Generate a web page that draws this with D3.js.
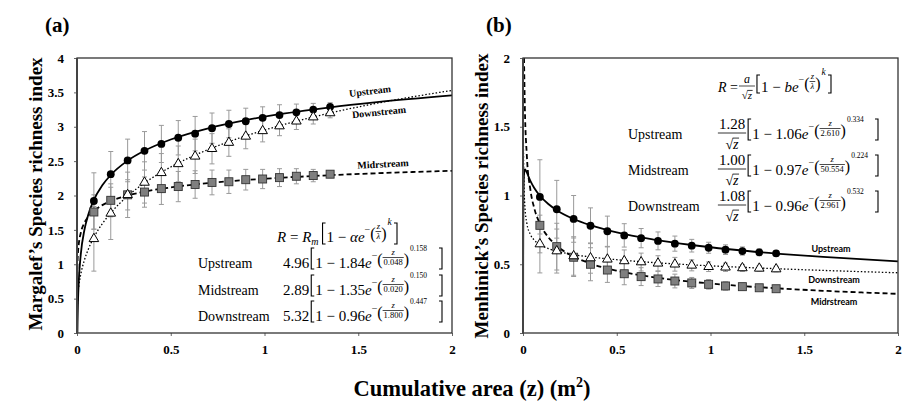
<!DOCTYPE html>
<html><head><meta charset="utf-8">
<script src="https://cdn.jsdelivr.net/npm/d3@7/dist/d3.min.js"></script>
<style>html,body{margin:0;padding:0;background:#fff;} svg{display:block}</style>
</head><body>
<svg id="c" width="922" height="406"></svg>
<script>
// ---------- data ----------
const zVals = [0.09,0.18,0.27,0.36,0.45,0.54,0.63,0.72,0.81,0.90,0.99,1.08,1.17,1.26,1.35];

const upA      = [1.92,2.31,2.51,2.65,2.75,2.84,2.90,2.98,3.04,3.08,3.13,3.17,3.21,3.25,3.29];
const upAErr   = [0.41,0.33,0.31,0.28,0.27,0.25,0.25,0.22,0.20,0.19,0.16,0.15,0.12,0.09,0.06];
const midA     = [1.76,1.93,2.01,2.05,2.10,2.13,2.16,2.19,2.20,2.23,2.24,2.26,2.28,2.29,2.31];
const midAErr  = [0.25,0.24,0.22,0.22,0.23,0.22,0.20,0.18,0.17,0.15,0.14,0.13,0.11,0.09,0.05];
const downA    = [1.37,1.74,2.01,2.19,2.33,2.46,2.57,2.68,2.77,2.86,2.94,3.01,3.08,3.14,3.20];
const downAErr = [0.47,0.38,0.33,0.30,0.28,0.26,0.25,0.22,0.20,0.18,0.16,0.14,0.12,0.10,0.07];

const upB      = [0.99,0.90,0.83,0.78,0.74,0.71,0.69,0.67,0.65,0.635,0.62,0.606,0.596,0.587,0.579];
const upBErr   = [0.27,0.21,0.17,0.13,0.11,0.085,0.07,0.065,0.055,0.046,0.04,0.035,0.03,0.025,0.02];
const midB     = [0.783,0.628,0.551,0.50,0.458,0.431,0.41,0.393,0.378,0.364,0.354,0.342,0.337,0.329,0.322];
const midBErr  = [0.20,0.17,0.14,0.12,0.09,0.08,0.065,0.055,0.05,0.04,0.035,0.03,0.025,0.02,0.02];
const downB    = [0.647,0.596,0.56,0.545,0.536,0.524,0.516,0.507,0.50,0.492,0.482,0.478,0.473,0.47,0.465];
const downBErr = [0.21,0.16,0.14,0.11,0.09,0.08,0.065,0.055,0.05,0.04,0.035,0.03,0.025,0.02,0.02];

// fitted curves as [z, R]
const fitUpA = [[0.0021,0],[0.003,0.17],[0.005,0.43],[0.01,0.78],[0.02,1.14],[0.04,1.505],[0.06,1.721],[0.09,1.935],[0.135,2.149],[0.18,2.298],[0.27,2.507],[0.36,2.652],[0.5,2.815],[0.7,2.978],[0.9,3.097],[1.1,3.19],[1.35,3.283],[1.6,3.358],[2.0,3.456]];
const fitMidA = [[0,0],[0.00001,0.06],[0.0001,0.41],[0.002,0.97],[0.005,1.159],[0.01,1.306],[0.02,1.455],[0.04,1.604],[0.06,1.69],[0.09,1.776],[0.135,1.86],[0.18,1.919],[0.27,2.0],[0.36,2.056],[0.5,2.118],[0.7,2.18],[0.9,2.226],[1.1,2.26],[1.35,2.295],[1.6,2.324],[2.0,2.359]];
const fitDownA = [[0,0.213],[0.005,0.568],[0.01,0.69],[0.02,0.852],[0.04,1.064],[0.06,1.216],[0.09,1.391],[0.135,1.59],[0.18,1.746],[0.27,1.992],[0.36,2.182],[0.5,2.415],[0.7,2.669],[0.9,2.867],[1.1,3.03],[1.35,3.2],[1.6,3.342],[2.0,3.529]];
const fitUpB = [[0.0005,0],[0.0006,0.14],[0.001,0.563],[0.002,0.925],[0.003,1.049],[0.005,1.146],[0.01,1.192],[0.02,1.168],[0.04,1.104],[0.06,1.054],[0.09,0.998],[0.135,0.938],[0.18,0.893],[0.27,0.829],[0.36,0.784],[0.5,0.731],[0.7,0.679],[0.9,0.64],[1.1,0.609],[1.35,0.578],[1.6,0.553],[2.0,0.521]];
const fitMidB = [[0.0054,2.0],[0.01,1.635],[0.02,1.301],[0.04,1.037],[0.06,0.908],[0.09,0.795],[0.135,0.697],[0.18,0.634],[0.27,0.555],[0.36,0.505],[0.5,0.453],[0.7,0.405],[0.9,0.3725],[1.1,0.3484],[1.35,0.3252],[1.6,0.3071],[2.0,0.2848]];
const fitDownB = [[0.0008,2.0],[0.001,1.83],[0.002,1.439],[0.005,1.094],[0.01,0.922],[0.02,0.801],[0.04,0.715],[0.06,0.676],[0.09,0.643],[0.135,0.614],[0.18,0.595],[0.27,0.57],[0.36,0.553],[0.5,0.533],[0.7,0.512],[0.9,0.4956],[1.1,0.4821],[1.35,0.4676],[1.6,0.4552],[2.0,0.4381]];

const xTicks = [0,0.5,1,1.5,2];
const yTicksA = [0,0.5,1,1.5,2,2.5,3,3.5,4];
const yTicksB = [0,0.5,1,1.5,2];

const seriesNames = ["Upstream","Midstream","Downstream"];
const curveLabels = ["Upstream","Midrstream","Downstream"];
const rmA = ["4.96","2.89","5.32"], alphaA = ["1.84","1.35","0.96"], lambdaA = ["0.048","0.020","1.800"], kA = ["0.158","0.150","0.447"];
const aB = ["1.28","1.00","1.08"], bB = ["1.06","0.97","0.96"], lambdaB = ["2.610","50.554","2.961"], kB = ["0.334","0.224","0.532"];

// ---------- drawing ----------
const svg = d3.select("#c");
const SERIF = "'Liberation Serif','Times New Roman',serif";
const MATH = "'Liberation Serif','DejaVu Serif',serif";
const SANS = "Lato,'Liberation Sans',sans-serif";
const NB = "\u00a0";

function drawPanel(x, y, yTicks, series) {
  const g = svg.append("g");
  const [x0, x1] = x.range(), [y0, y1] = y.range();
  const gx = g.append("g").attr("transform", `translate(0,${y0})`)
    .call(d3.axisBottom(x).tickValues(xTicks).tickFormat(d => String(d)).tickSize(3).tickPadding(9));
  const gy = g.append("g").attr("transform", `translate(${x0},0)`)
    .call(d3.axisLeft(y).tickValues(yTicks).tickFormat(d => String(d)).tickSize(3).tickPadding(10));
  [gx, gy].forEach(a => {
    a.select(".domain").remove();
    a.selectAll("line").attr("stroke", "#666");
    a.selectAll("text").attr("font-family", SERIF).attr("font-weight", "bold").attr("font-size", 13).attr("fill", "#000");
  });
  // error bars
  series.forEach(s => {
    zVals.forEach((z, i) => {
      const cx = x(z), ya = y(s.vals[i] - s.err[i]), yb = y(s.vals[i] + s.err[i]);
      g.append("line").attr("x1", cx).attr("x2", cx).attr("y1", ya).attr("y2", yb).attr("stroke", "#9a9a9a").attr("stroke-width", 1);
      [ya, yb].forEach(yy => g.append("line").attr("x1", cx - 2.5).attr("x2", cx + 2.5).attr("y1", yy).attr("y2", yy).attr("stroke", "#9a9a9a").attr("stroke-width", 1));
    });
  });
  // fit curves
  const line = d3.line().x(d => x(d[0])).y(d => y(d[1])).curve(d3.curveMonotoneX);
  series.forEach(s => {
    g.append("path").datum(s.fit).attr("d", line).attr("fill", "none").attr("stroke", "#000")
      .attr("stroke-width", s.sw).attr("stroke-dasharray", s.dash);
  });
  // markers
  series.forEach(s => {
    zVals.forEach((z, i) => {
      const cx = x(z), cy = y(s.vals[i]);
      if (s.marker === "circle") g.append("circle").attr("cx", cx).attr("cy", cy).attr("r", 3.9).attr("fill", "#000");
      else if (s.marker === "square") g.append("rect").attr("x", cx - 4).attr("y", cy - 4).attr("width", 8).attr("height", 8)
        .attr("fill", "#7f7f7f").attr("stroke", "#333").attr("stroke-width", 0.9);
      else g.append("path").attr("d", d3.symbol().type(d3.symbolTriangle).size(40)()).attr("transform", `translate(${cx},${cy})`)
        .attr("fill", "#fff").attr("stroke", "#000").attr("stroke-width", 1);
    });
  });
  // frame
  g.append("rect").attr("x", x0).attr("y", y1).attr("width", x1 - x0).attr("height", y0 - y1)
    .attr("fill", "none").attr("stroke", "#333").attr("stroke-width", 1.3);
  g.append("line").attr("x1", x0).attr("x2", x0).attr("y1", y1).attr("y2", y0).attr("stroke", "#444").attr("stroke-width", 2);
  return g;
}

const xa = d3.scaleLinear().domain([0, 2]).range([77, 452]);
const ya = d3.scaleLinear().domain([0, 4]).range([333, 58]);
const xb = d3.scaleLinear().domain([0, 2]).range([523, 898]);
const yb = d3.scaleLinear().domain([0, 2]).range([333, 58]);

const styles = [
  {marker: "circle", sw: 1.8, dash: null},
  {marker: "square", sw: 1.8, dash: "5,3"},
  {marker: "triangle", sw: 1.3, dash: "1.5,2"}
];
const gA = drawPanel(xa, ya, yTicksA, [
  Object.assign({vals: upA, err: upAErr, fit: fitUpA}, styles[0]),
  Object.assign({vals: midA, err: midAErr, fit: fitMidA}, styles[1]),
  Object.assign({vals: downA, err: downAErr, fit: fitDownA}, styles[2])
]);
const gB = drawPanel(xb, yb, yTicksB, [
  Object.assign({vals: upB, err: upBErr, fit: fitUpB}, styles[0]),
  Object.assign({vals: midB, err: midBErr, fit: fitMidB}, styles[1]),
  Object.assign({vals: downB, err: downBErr, fit: fitDownB}, styles[2])
]);

// curve labels
[[370, 91, -7, 0], [383, 164, -3, 1], [379, 112, -6, 2]].forEach(([cx, cy, r, i]) => {
  gA.append("text").attr("transform", `translate(${cx},${cy}) rotate(${r})`).attr("dy", "0.35em").attr("text-anchor", "middle")
    .attr("font-family", SERIF).attr("font-weight", "bold").attr("font-size", 10).text(curveLabels[i]);
});
[[831, 249, 0], [834, 302, 1], [834, 280, 2]].forEach(([cx, cy, i]) => {
  gB.append("text").attr("x", cx).attr("y", cy).attr("dy", "0.35em").attr("text-anchor", "middle")
    .attr("font-family", SANS).attr("font-weight", "bold").attr("font-size", 9).text(curveLabels[i]);
});

// ---------- formula helpers ----------
function txt(g, x, y, s, size, opt = {}) {
  const t = g.append("text").attr("x", x).attr("y", y).attr("font-family", MATH).attr("font-size", size).attr("fill", "#000").text(s);
  if (opt.italic) t.attr("font-style", "italic");
  if (opt.anchor) t.attr("text-anchor", opt.anchor);
  return t;
}
const W = t => t.node().getComputedTextLength();
function bracket(g, x, y1, y2, left) {
  const d = left ? `M${x + 3},${y1}H${x}V${y2}H${x + 3}` : `M${x - 3},${y1}H${x}V${y2}H${x - 3}`;
  g.append("path").attr("d", d).attr("fill", "none").attr("stroke", "#000").attr("stroke-width", 1.1);
}
function expo(g, x, b, num, den, pow, greekDen) {
  let t = txt(g, x, b - 9, "−", 10); x += W(t);
  t = txt(g, x, b - 3, "(", 16); x += W(t);
  const tn = txt(g, 0, b - 13, num, 8.5, {italic: true, anchor: "middle"});
  const td = txt(g, 0, b - 3, den, 8.5, {italic: greekDen, anchor: "middle"});
  const fw = Math.max(W(tn), W(td)) + 2;
  tn.attr("x", x + fw / 2); td.attr("x", x + fw / 2);
  g.append("line").attr("x1", x).attr("x2", x + fw).attr("y1", b - 10.5).attr("y2", b - 10.5).attr("stroke", "#000").attr("stroke-width", 0.7);
  x += fw;
  t = txt(g, x, b - 3, ")", 16); x += W(t) + 1;
  t = greekDen ? txt(g, x, b - 17, pow, 9.5, {italic: true}) : txt(g, x, b - 17, pow, 7.5);
  return x + W(t);
}
function mainPart(g, x, b, coef, sym) {
  const t = txt(g, x, b, "1" + NB + "−" + NB + coef, 15);
  if (sym) t.append("tspan").attr("font-style", "italic").text(sym);
  t.append("tspan").attr("font-style", "italic").text("e");
  return x + W(t);
}

// ---------- formulas panel (a) ----------
const fa = svg.append("g");
{
  const b = 242; let x = 277;
  let t = txt(fa, x, b, "R", 15, {italic: true}); x += W(t);
  t = txt(fa, x, b, NB + "=" + NB, 15); x += W(t);
  t = txt(fa, x, b, "R", 15, {italic: true}); x += W(t);
  t = txt(fa, x, b + 3, "m", 10, {italic: true}); x += W(t) + 4;
  bracket(fa, x, b - 19, b + 2, true); x += 4;
  x = mainPart(fa, x, b, "", "α");
  expo(fa, x, b, "z", "λ", "k", true);
  bracket(fa, 397, b - 19, b + 2, false);
}
[268, 295, 321].forEach((b, i) => {
  txt(fa, 198, b, seriesNames[i], 14);
  let x = 283;
  const t = txt(fa, x, b, rmA[i], 15); x += W(t) + 2;
  bracket(fa, x, b - 20, b + 1, true); x += 4;
  x = mainPart(fa, x, b, alphaA[i]);
  expo(fa, x, b, "z", lambdaA[i], kA[i], false);
  bracket(fa, 442, b - 20, b + 1, false);
});

// ---------- formulas panel (b) ----------
const fb = svg.append("g");
function sqrtZ(g, cx, by, size) {
  const t1 = txt(g, 0, by, "√", size);
  const t2 = txt(g, 0, by, "z", size, {italic: true});
  const w1 = W(t1), w2 = W(t2), x0 = cx - (w1 + w2) / 2;
  t1.attr("x", x0); t2.attr("x", x0 + w1);
  g.append("line").attr("x1", x0 + w1 - 0.5).attr("x2", x0 + w1 + w2 + 0.5).attr("y1", by - size * 0.78).attr("y2", by - size * 0.78)
    .attr("stroke", "#000").attr("stroke-width", 0.8);
}
{
  const b = 92; let x = 718;
  let t = txt(fb, x, b, "R", 14, {italic: true}); x += W(t);
  t = txt(fb, x, b, NB + "=", 14); x += W(t) + 1;
  const cx = x + 8;
  txt(fb, cx, b - 9, "a", 12, {italic: true, anchor: "middle"});
  fb.append("line").attr("x1", x).attr("x2", x + 16).attr("y1", b - 6).attr("y2", b - 6).attr("stroke", "#000").attr("stroke-width", 0.7);
  sqrtZ(fb, cx, b + 7, 11);
  x += 18;
  bracket(fb, x, b - 17, b + 1, true); x += 4;
  x = mainPart(fb, x, b, "", "b");
  expo(fb, x, b, "z", "λ", "k", true);
  bracket(fb, 831, b - 17, b + 1, false);
}
[139, 175, 211].forEach((b, i) => {
  txt(fb, 628, b, seriesNames[i], 14);
  const t = txt(fb, 732, b - 10, aB[i], 15, {anchor: "middle"});
  const wn = W(t);
  fb.append("line").attr("x1", 732 - wn / 2 - 1).attr("x2", 732 + wn / 2 + 1).attr("y1", b - 6).attr("y2", b - 6).attr("stroke", "#000").attr("stroke-width", 0.8);
  sqrtZ(fb, 732, b + 10, 14);
  let x = 732 + wn / 2 + 3;
  bracket(fb, x, b - 20, b + 1, true); x += 4;
  x = mainPart(fb, x, b, bB[i]);
  expo(fb, x, b, "z", lambdaB[i], kB[i], false);
  bracket(fb, 878, b - 20, b + 1, false);
});

// ---------- titles ----------
svg.append("text").attr("x", 45).attr("y", 32).attr("font-family", SERIF).attr("font-weight", "bold").attr("font-size", 21).text("(a)");
svg.append("text").attr("x", 486).attr("y", 32).attr("font-family", SERIF).attr("font-weight", "bold").attr("font-size", 21).text("(b)");
svg.append("text").attr("transform", "translate(42,194) rotate(-90)").attr("text-anchor", "middle")
  .attr("font-family", SERIF).attr("font-weight", "bold").attr("font-size", 19).text("Margalef’s Species richness index");
svg.append("text").attr("transform", "translate(488,196) rotate(-90)").attr("text-anchor", "middle")
  .attr("font-family", SERIF).attr("font-weight", "bold").attr("font-size", 19).text("Menhinick’s Species richness index");
const xt = svg.append("text").attr("x", 472).attr("y", 396).attr("text-anchor", "middle")
  .attr("font-family", SERIF).attr("font-weight", "bold").attr("font-size", 22.5).text("Cumulative area (z) (m");
xt.append("tspan").attr("font-size", 14).attr("dy", -9).text("2");
xt.append("tspan").attr("dy", 9).text(")");
</script>
</body></html>
